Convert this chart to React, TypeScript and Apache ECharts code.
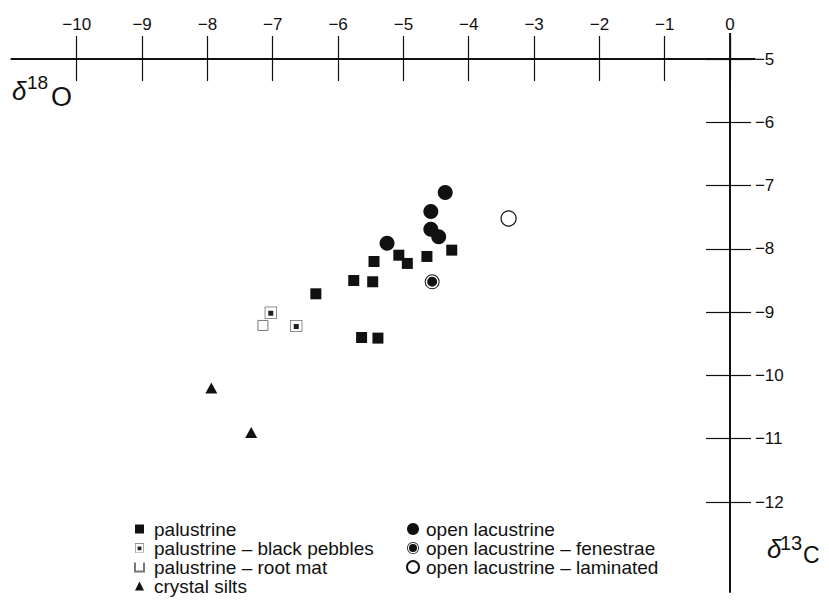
import React, { useEffect, useRef } from 'react';
import * as echarts from 'echarts';

// Axis ticks / labels
const xTicks = [-10, -9, -8, -7, -6, -5, -4, -3, -2, -1, 0];
const yTicks = [-5, -6, -7, -8, -9, -10, -11, -12];
const xMin = -11;
const xMax = 0.38;
const yMin = -13.42;
const yMax = -5;

// [δ13C, δ18O]
const palustrine = [
  [-4.26, -8.02], [-4.64, -8.12], [-5.07, -8.1], [-4.94, -8.23], [-5.45, -8.2],
  [-5.76, -8.5], [-5.47, -8.52], [-6.34, -8.71], [-5.64, -9.4], [-5.39, -9.41],
];
const blackPebbles = [[-7.03, -9.01], [-6.64, -9.22]];
const rootMat = [[-7.15, -9.21]];
const crystalSilts = [[-7.94, -10.2], [-7.33, -10.9]];
const openLacustrine = [[-4.36, -7.11], [-4.58, -7.41], [-4.58, -7.69], [-4.46, -7.81], [-5.25, -7.91]];
const fenestrae = [[-4.56, -8.52]];
const laminated = [[-3.39, -7.52]];

const legendLeft = ['palustrine', 'palustrine – black pebbles', 'palustrine – root mat', 'crystal silts'];
const legendRight = ['open lacustrine', 'open lacustrine – fenestrae', 'open lacustrine – laminated'];

const FONT = '"Liberation Sans", Arial, Helvetica, sans-serif';
const INK = '#111';

const pebblePath = 'path://M0,0H12V12H0Z M0.5,0.5V11.5H11.5V0.5Z M3.5,4H8.5V9H3.5Z';
const fenestraePath =
  'path://M0,15A15,15 0 1,1 30,15A15,15 0 1,1 0,15Z M2,15A13,13 0 1,0 28,15A13,13 0 1,0 2,15Z M5,15A10,10 0 1,1 25,15A10,10 0 1,1 5,15Z';
const rootMatIcon = 'path://M0,0V10H10V0';

const fmt = (v: number) => (v < 0 ? '\u2212' + Math.abs(v) : String(v));

export default function App() {
  const ref = useRef<HTMLDivElement>(null);
  useEffect(() => {
    if (!ref.current) return;
    const chart = echarts.init(ref.current, undefined, { renderer: 'svg' });
    const tickLine = { color: INK, width: 1.2 };
    const labelStyle = { fontSize: 17, color: INK, fontFamily: FONT };
    const legendText = { fontSize: 19, lineHeight: 19, color: INK, fontFamily: FONT };
    const option: any = {
      animation: false,
      backgroundColor: '#fff',
      grid: {
        left: 11.4,
        right: 74.1,
        top: 59,
        bottom: 10.1,
        containLabel: false,
        outerBoundsMode: 'none',
      },
      xAxis: [
        {
          type: 'value', position: 'top', min: xMin, max: xMax,
          axisLine: { show: true, onZero: false, lineStyle: { color: INK, width: 2 } },
          axisTick: { show: true, customValues: xTicks, length: 23, lineStyle: tickLine },
          axisLabel: { customValues: xTicks, formatter: fmt, margin: 26, ...labelStyle },
          splitLine: { show: false },
        },
        {
          type: 'value', position: 'top', min: xMin, max: xMax,
          axisLine: { show: false, onZero: false },
          axisTick: { show: true, inside: true, customValues: xTicks, length: 22, lineStyle: tickLine },
          axisLabel: { show: false },
          splitLine: { show: false },
        },
      ],
      yAxis: [
        {
          type: 'value', position: 'right', min: yMin, max: yMax,
          axisLine: { show: true, onZero: true, lineStyle: { color: INK, width: 2 } },
          axisTick: { show: true, customValues: yTicks, length: 21, lineStyle: tickLine },
          axisLabel: { customValues: yTicks, formatter: fmt, margin: 0, ...labelStyle },
          splitLine: { show: false },
        },
        {
          type: 'value', position: 'right', min: yMin, max: yMax,
          axisLine: { show: false, onZero: true },
          axisTick: { show: true, inside: true, customValues: yTicks, length: 24, lineStyle: tickLine },
          axisLabel: { show: false },
          splitLine: { show: false },
        },
      ],
      legend: [
        {
          data: legendLeft.map((n) => (n === 'palustrine – root mat' ? { name: n, icon: rootMatIcon } : { name: n })),
          orient: 'vertical', left: 134, top: 519.5, itemWidth: 9, itemHeight: 9, itemGap: 0, padding: 0,
          selectedMode: false,
          textStyle: { ...legendText, padding: [0, 0, 0, 5] },
        },
        {
          data: legendRight,
          orient: 'vertical', left: 406, top: 519.5, itemWidth: 12, itemHeight: 12, itemGap: 0, padding: 0,
          selectedMode: false,
          textStyle: { ...legendText, padding: [0, 0, 0, 2] },
        },
      ],
      series: [
        { name: 'palustrine', type: 'scatter', data: palustrine, symbol: 'rect', symbolSize: 11, itemStyle: { color: INK } },
        { name: 'palustrine – black pebbles', type: 'scatter', data: blackPebbles, symbol: pebblePath, symbolSize: 12, itemStyle: { color: '#222' } },
        { name: 'palustrine – root mat', type: 'scatter', data: rootMat, symbol: 'rect', symbolSize: 10, itemStyle: { color: 'transparent', borderColor: '#777', borderWidth: 1 } },
        { name: 'crystal silts', type: 'scatter', data: crystalSilts, symbol: 'triangle', symbolSize: [12, 11], itemStyle: { color: INK } },
        { name: 'open lacustrine', type: 'scatter', data: openLacustrine, symbol: 'circle', symbolSize: 15, itemStyle: { color: INK } },
        { name: 'open lacustrine – fenestrae', type: 'scatter', data: fenestrae, symbol: fenestraePath, symbolSize: 15, itemStyle: { color: INK } },
        { name: 'open lacustrine – laminated', type: 'scatter', data: laminated, symbol: 'circle', symbolSize: 15, itemStyle: { color: '#fff', borderColor: INK, borderWidth: 1.2 } },
      ].map((s) => ({ ...s, xAxisIndex: 0, yAxisIndex: 0, silent: true, itemStyle: { opacity: 1, ...s.itemStyle } })),
    };
    chart.setOption(option);
    const x0 = chart.convertToPixel({ xAxisIndex: 0 }, 0) as number;
    const yTop = chart.convertToPixel({ yAxisIndex: 0 }, yMax) as number;
    const txt = (text: string, x: number, y: number, size: number, italic = false) => ({
      type: 'text', x, y,
      style: {
        text, fontSize: size, fontFamily: FONT, fill: INK, align: 'left', verticalAlign: 'middle',
        fontStyle: italic ? 'italic' : 'normal',
      },
    });
    chart.setOption({
      graphic: [
        { type: 'line', shape: { x1: x0, y1: yTop - 26, x2: x0, y2: yTop }, style: { stroke: INK, lineWidth: 2 } },
        txt('δ', 12, 91, 26, true),
        txt('18', 27, 82.5, 19),
        txt('O', 51, 97, 27),
        txt('δ', 767, 549, 26, true),
        txt('13', 780, 542.5, 20),
        txt('C', 803, 555, 23),
      ],
    });
    return () => chart.dispose();
  }, []);
  return <div ref={ref} style={{ position: 'absolute', left: 0, top: 0, width: 829, height: 602 }} />;
}
